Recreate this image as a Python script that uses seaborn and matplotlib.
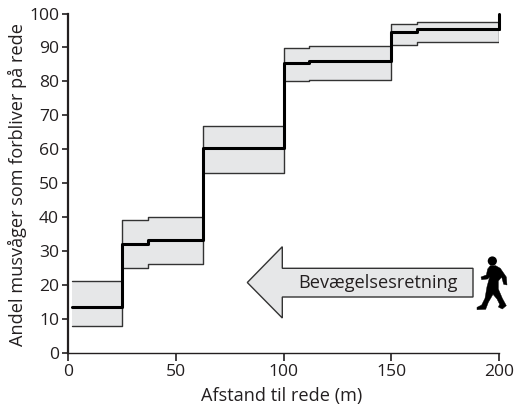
import matplotlib
matplotlib.use("Agg")
import matplotlib.pyplot as plt
from matplotlib.patches import Polygon, Circle
from matplotlib.transforms import Affine2D
import seaborn as sns
import pandas as pd

# ----------- Data ---------------------

distance = [2, 25, 37, 62.5, 100, 112, 150, 162, 200]
share = [13.5, 32.3, 33.2, 60.3, 85.5, 85.9, 94.6, 95.4, 95.4]
upper = [21.3, 39.2, 40, 67, 89.9, 90.4, 97, 97.4, 97.4]
lower = [8, 25, 26.2, 53, 80.1, 80.3, 90.7, 91.5, 91.5]
top_x = [200, 200]
top_y = [95.4, 100]
x_ticks = [0, 50, 100, 150, 200]
y_ticks = list(range(0, 101, 10))

DARK = "#231f20"
GREY = "#e6e7e8"

sns.set_theme(style="ticks")
plt.rcParams["font.family"] = ["Open Sans", "DejaVu Sans"]

W, H = 515, 408
fig = plt.figure(figsize=(W / 100, H / 100), dpi=100)
ax = fig.add_axes([68 / W, (H - 353.3) / H, (499 - 68) / W, (353.3 - 13.5) / H])

# ----------- Band and step line ---------------------

df = pd.DataFrame({"distance": distance, "share": share, "upper": upper, "lower": lower})

ax.fill_between(df["distance"], df["lower"], df["upper"], step="post", color=GREY, lw=0, zorder=1)
for col in ["upper", "lower"]:
    sns.lineplot(data=df, x="distance", y=col, drawstyle="steps-post", color="#333333",
                 linewidth=1.0, errorbar=None, ax=ax, zorder=2)
ax.vlines(distance[-1], lower[-1], upper[-1], color="#333333", lw=1.0, zorder=2)
sns.lineplot(data=df, x="distance", y="share", drawstyle="steps-post", color="black",
             linewidth=2.2, errorbar=None, ax=ax, zorder=3, clip_on=False)
sns.lineplot(x=top_x, y=top_y, color="black", linewidth=2.2, estimator=None, sort=False, ax=ax,
             zorder=3, clip_on=False)

# ----------- Axes ---------------------

ax.set_xlim(0, 200)
ax.set_ylim(0, 100)
ax.set_xticks(x_ticks)
ax.set_yticks(y_ticks)
ax.tick_params(axis="y", length=4.5, width=1.2, color=DARK, labelsize=12.6, labelcolor=DARK, pad=2)
ax.tick_params(axis="x", length=6, width=1.2, color=DARK, labelsize=12.6, labelcolor=DARK, pad=2)
sns.despine(ax=ax)
ax.spines["left"].set_linewidth(1.6)
ax.spines["bottom"].set_linewidth(1.0)
ax.spines["left"].set_color(DARK)
ax.spines["bottom"].set_color(DARK)

ax.set_xlabel("Afstand til rede (m)", fontsize=13.1, color=DARK)
ax.set_ylabel("Andel musvåger som forbliver på rede", fontsize=13.1, color=DARK)
ax.xaxis.set_label_coords((282 - 68) / (499 - 68), -(396.5 - 353.3) / (353.3 - 13.5), transform=ax.transAxes)
ax.xaxis.label.set_va("center")
ax.yaxis.set_label_coords((17 - 68) / (499 - 68), (353.3 - 184) / (353.3 - 13.5), transform=ax.transAxes)
ax.yaxis.label.set_va("center")

# pixel coordinates of the reference, for the annotations
px = Affine2D().scale(1, -1).translate(0, H)

# ----------- Direction arrow and walker ---------------------

arrow = [(247.3, 282.5), (282.3, 246.7), (282.3, 268.3), (473, 268.3), (473, 297),
         (282.3, 297), (282.3, 318)]
fig.add_artist(Polygon(arrow, closed=True, facecolor=GREY, edgecolor="#333333", lw=1.0, transform=px))
fig.text(378 / W, 1 - 282.5 / H, "Bevægelsesretning", ha="center", va="center", fontsize=13.1,
         color=DARK)

walker = [(76, 62), (68, 72), (64, 90), (48, 96), (50, 104), (68, 102), (74, 96), (66, 125),
          (60, 160), (50, 180), (36, 187), (36, 194), (62, 193), (70, 172), (84, 148), (96, 162),
          (104, 178), (100, 186), (112, 192), (124, 182), (112, 160), (100, 132), (100, 108),
          (110, 96), (116, 118), (126, 120), (124, 96), (106, 70), (92, 62)]
walker_px = [(465 + x / 3, 245 + y / 3) for x, y in walker]
fig.add_artist(Polygon(walker_px, closed=True, facecolor="black", edgecolor="black", lw=0.3, transform=px))
fig.add_artist(Circle((465 + 82 / 3, 245 + 48 / 3), 4.6, facecolor="black", edgecolor="none", transform=px))

fig.savefig("out.png", dpi=100)
